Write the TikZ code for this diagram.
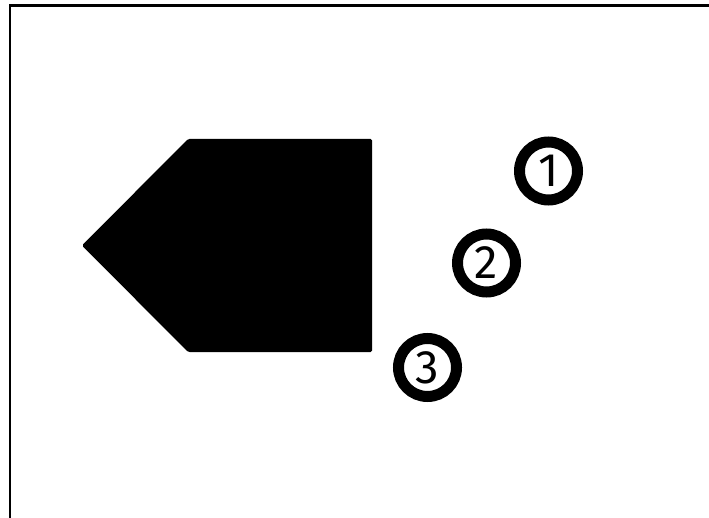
\documentclass[tikz,border=0pt]{standalone}
\usepackage{fontspec}
\setsansfont{Fira Sans}
\usepackage{tikz}

\tikzset{
    num/.style={circle, draw, line width=11pt, minimum size=58pt, inner sep=0pt,
        font=\sffamily\fontsize{47}{47}\selectfont},
}

\begin{document}
\begin{tikzpicture}[x=1pt,y=-1pt]
    \useasboundingbox (0,0) rectangle (709,518);
    \draw[line width=2.5pt] (10,518) -- (10,5.5) -- (709,5.5);
    \fill[rounded corners=1.5pt] (82,245.5) -- (188,139) -- (372,139) -- (372,352) -- (188,352) -- cycle;
    \node[num] (c1) at (548.5,171) {1};
    \node[num] (c2) at (486.5,263) {2};
    \node[num] (c3) at (427.5,367.5) {3};
\end{tikzpicture}
\end{document}
